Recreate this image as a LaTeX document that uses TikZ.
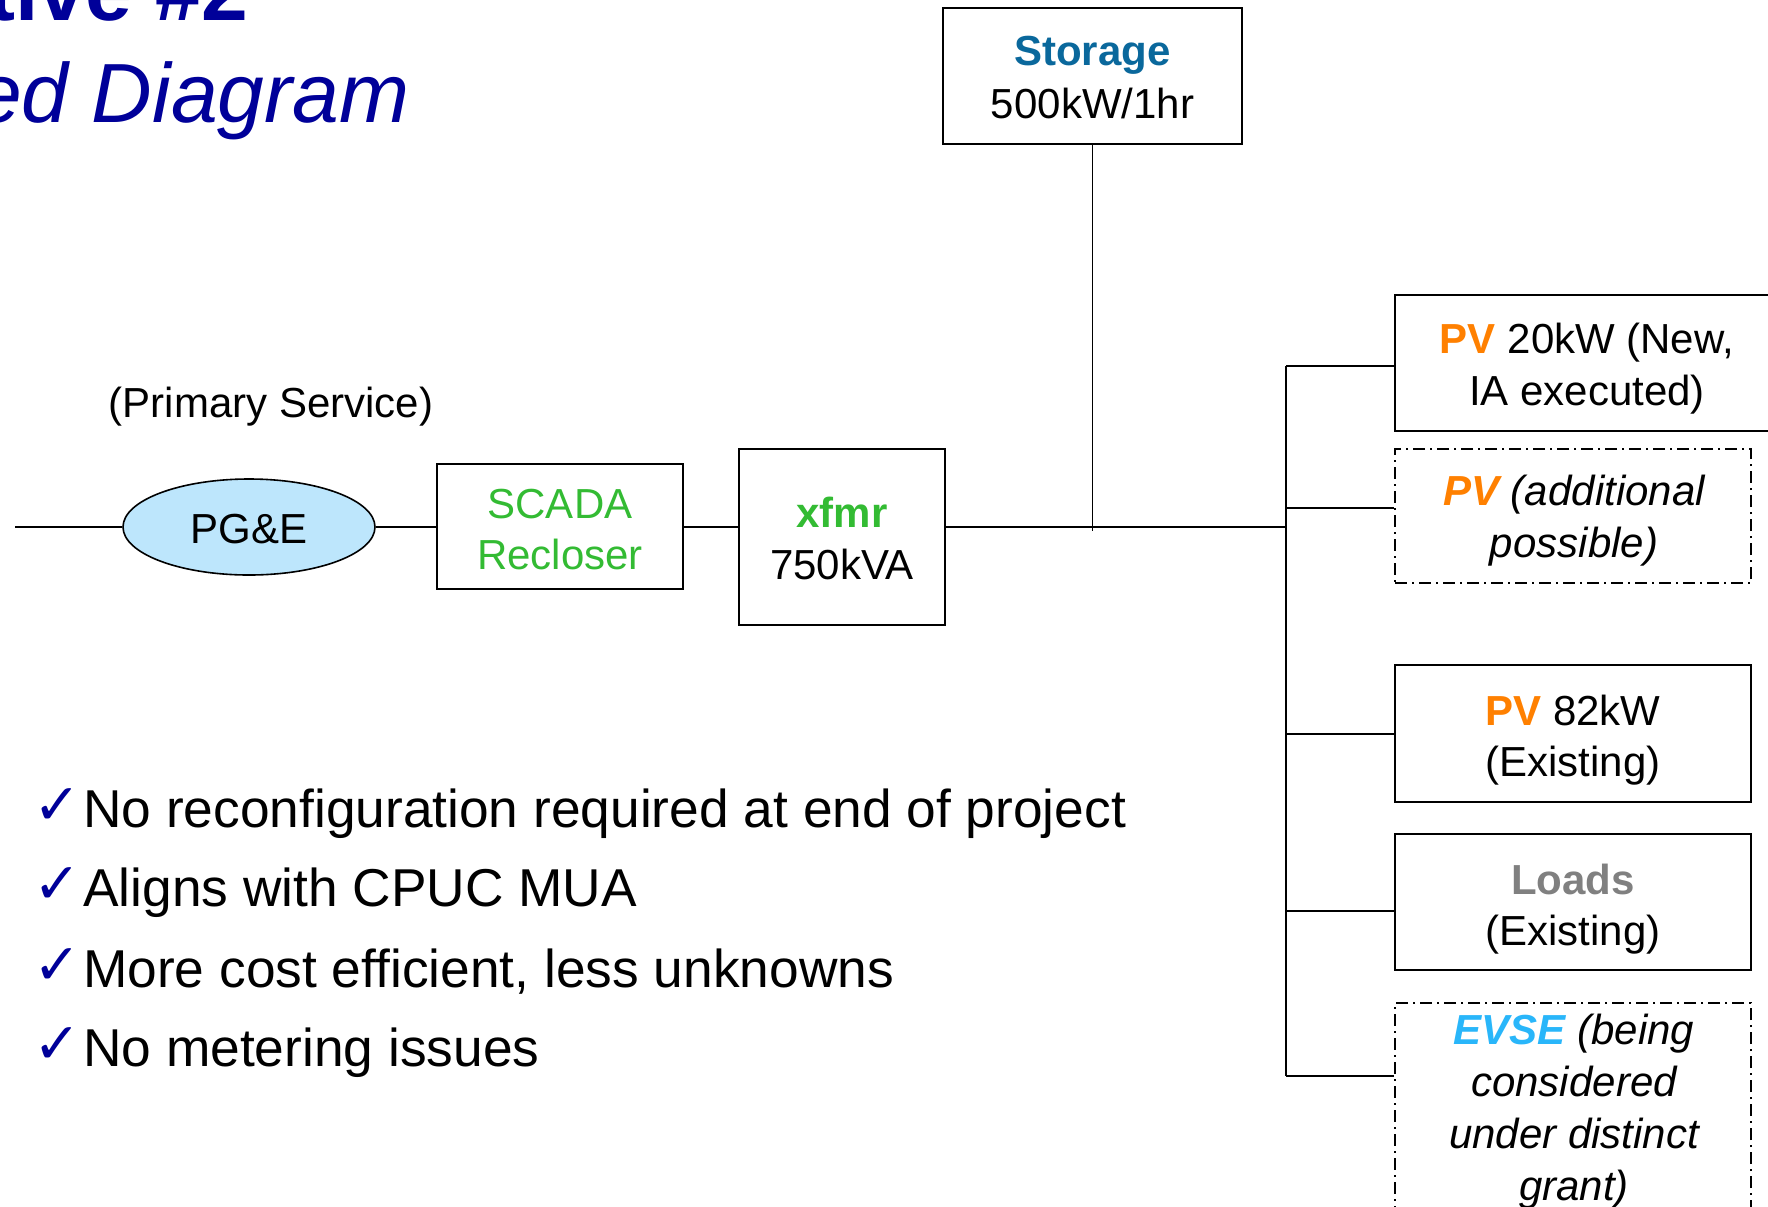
\documentclass[tikz,border=0pt]{standalone}
\usepackage{fontspec}
\setmainfont{Liberation Sans}
\newfontfamily\symfont{DejaVu Sans}
\usetikzlibrary{shapes.geometric}
\definecolor{titleblue}{RGB}{0,0,153}
\definecolor{storblue}{RGB}{10,104,156}
\definecolor{scgreen}{RGB}{51,187,51}
\definecolor{pvorange}{RGB}{255,128,0}
\definecolor{loadgray}{RGB}{128,128,128}
\definecolor{evblue}{RGB}{41,182,250}
\definecolor{pgefill}{RGB}{189,230,252}
\begin{document}
\begin{tikzpicture}[x=1bp,y=-1bp,
  wire/.style={draw, line width=1.6bp},
  box/.style={draw, rectangle, inner sep=0pt, line width=1.6bp},
  dbox/.style={box, dash pattern=on 12bp off 5bp on 2bp off 5bp},
  lbl/.style={anchor=base, inner sep=0pt, font=\fontsize{42bp}{50bp}\selectfont},
  bul/.style={anchor=base west, inner sep=0pt, font=\fontsize{53.3bp}{60bp}\selectfont},
  chk/.style={anchor=base west, inner sep=0pt, text=titleblue, font=\symfont\fontsize{57bp}{62bp}\selectfont},
  ttl/.style={anchor=base west, inner sep=0pt, text=titleblue}]
\fill[white] (0,0) rectangle (1768,1206);
\useasboundingbox (0,0) rectangle (1768,1206);

% title (cut at the left edge, as in the reference)
\node[ttl, font=\bfseries\fontsize{84bp}{90bp}\selectfont] (title1) at (-13,20) {tive \#2};
\node[ttl, font=\itshape\fontsize{84bp}{90bp}\selectfont] (title2) at (-25,122) {ed Diagram};

% boxes
\node[box, minimum width=299bp, minimum height=136bp] (storage) at (1092.5,76) {};
\node[draw, ellipse, fill=pgefill, line width=1.6bp, inner sep=0pt, minimum width=252bp, minimum height=96bp] (pge) at (249,527) {};
\node[box, minimum width=246bp, minimum height=125bp] (scada) at (560,526.5) {};
\node[box, minimum width=206bp, minimum height=176bp] (xfmr) at (842,537) {};
\node[box, minimum width=384bp, minimum height=136bp] (pv20) at (1587,363) {};
\node[dbox, minimum width=356bp, minimum height=134bp] (pvadd) at (1573,516) {};
\node[box, minimum width=356bp, minimum height=137bp] (pv82) at (1573,733.5) {};
\node[box, minimum width=356bp, minimum height=136bp] (loads) at (1573,902) {};
\node[dbox, minimum width=356bp, minimum height=237bp] (evse) at (1573,1121.5) {};

% texts
\node[lbl] (storage-l1) at (1092.5,65) {\textbf{\color{storblue}Storage}};
\node[lbl] (storage-l2) at (1092.5,118) {500kW/1hr};
\node[lbl] (primary) at (271,417) {(Primary Service)};
\node[lbl] (pge-l1) at (249,543) {PG\&E};
\node[lbl, text=scgreen] (scada-l1) at (560,518) {SCADA};
\node[lbl, text=scgreen] (scada-l2) at (560,569) {Recloser};
\node[lbl] (xfmr-l1) at (842,527) {\textbf{\color{scgreen}xfmr}};
\node[lbl] (xfmr-l2) at (842,579) {750kVA};
\node[lbl] (pv20-l1) at (1587,353) {\textbf{\color{pvorange}PV} 20kW (New,};
\node[lbl] (pv20-l2) at (1587,405) {IA executed)};
\node[lbl] (pvadd-l1) at (1574,505) {\itshape\textbf{\color{pvorange}PV} (additional};
\node[lbl] (pvadd-l2) at (1574,557) {\itshape possible)};
\node[lbl] (pv82-l1) at (1573,725) {\textbf{\color{pvorange}PV} 82kW};
\node[lbl] (pv82-l2) at (1573,776) {(Existing)};
\node[lbl] (loads-l1) at (1573,894) {\textbf{\color{loadgray}Loads}};
\node[lbl] (loads-l2) at (1573,945) {(Existing)};
\node[lbl] (evse-l1) at (1574,1044) {\itshape\textbf{\color{evblue}EVSE} (being};
\node[lbl] (evse-l2) at (1574,1096) {\itshape considered};
\node[lbl] (evse-l3) at (1574,1148) {\itshape under distinct};
\node[lbl] (evse-l4) at (1574,1200) {\itshape grant)};

% bullets
\node[chk] (c1) at (33,824) {✓};
\node[chk] (c2) at (33,903) {✓};
\node[chk] (c3) at (33,984) {✓};
\node[chk] (c4) at (33,1063) {✓};
\node[bul] (b1) at (83,827) {No reconfiguration required at end of project};
\node[bul] (b2) at (83,906) {Aligns with CPUC MUA};
\node[bul] (b3) at (83,987) {More cost efficient, less unknowns};
\node[bul] (b4) at (83,1066) {No metering issues};

% connectors
\coordinate (feed) at (15,527);
\coordinate (busj) at (1286,527);
\coordinate (storend) at (1092.5,531);
\coordinate (bustop) at (1286,366);
\coordinate (br2) at (1286,508);
\coordinate (br3) at (1286,734);
\coordinate (br4) at (1286,911);
\coordinate (busbot) at (1286,1076);

\draw[wire] (feed) -- (pge.west);
\draw[wire] (pge.east) -- (pge.east -| scada.west);
\draw[wire] (pge.east -| scada.east) -- (pge.east -| xfmr.west);
\draw[wire] (pge.east -| xfmr.east) -- (busj);
\draw[wire] (storage.south) -- (storend);
\draw[wire] (bustop) -- (busbot);
\draw[wire] (bustop) -- (bustop -| pv20.west);
\draw[wire] (br2) -- (br2 -| pvadd.west);
\draw[wire] (br3) -- (br3 -| pv82.west);
\draw[wire] (br4) -- (br4 -| loads.west);
\draw[wire] (busbot) -- (busbot -| evse.west);
\end{tikzpicture}
\end{document}
